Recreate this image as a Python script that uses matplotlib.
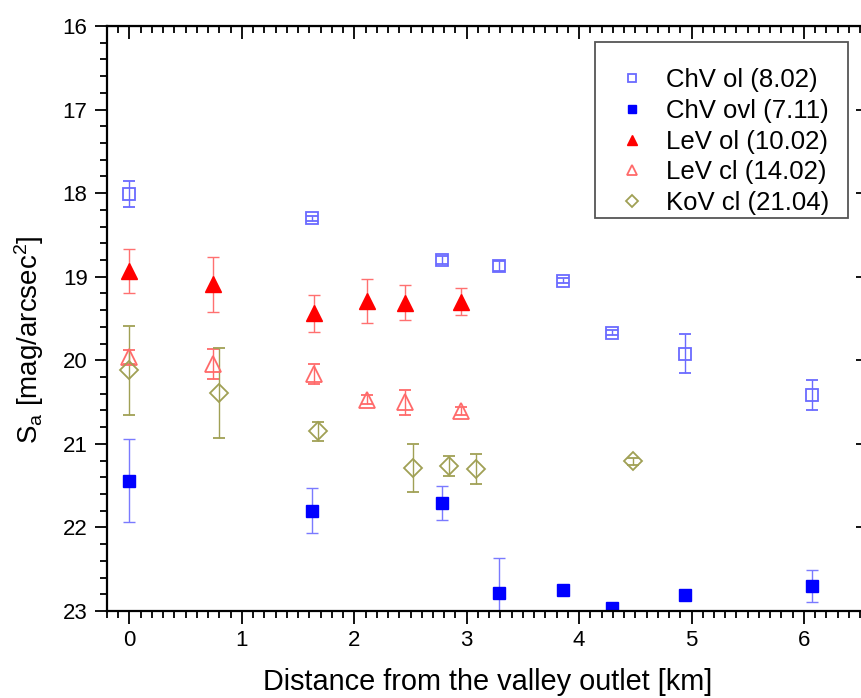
import matplotlib
matplotlib.use("Agg")
import matplotlib.pyplot as plt
from matplotlib.ticker import MultipleLocator
from matplotlib.patches import Rectangle

plt.rcParams['font.family'] = ['Liberation Sans', 'DejaVu Sans']
plt.rcParams['mathtext.default'] = 'regular'

# ---- data ----
chv_ol_x = [0.0, 1.62, 2.78, 3.29, 3.86, 4.29, 4.94, 6.07]
chv_ol_y = [18.01, 18.30, 18.80, 18.87, 19.05, 19.67, 19.92, 20.42]
chv_ol_e = [0.16, 0.03, 0.05, 0.06, 0.03, 0.03, 0.23, 0.18]

chv_ovl_x = [0.0, 1.62, 2.78, 3.29, 3.86, 4.29, 4.94, 6.07]
chv_ovl_y = [21.44, 21.80, 21.71, 22.79, 22.75, 22.96, 22.81, 22.70]
chv_ovl_e = [0.50, 0.27, 0.20, 0.42, 0.05, 0.03, 0.03, 0.19]

lev_ol_x = [0.0, 0.74, 1.64, 2.11, 2.45, 2.95]
lev_ol_y = [18.93, 19.09, 19.44, 19.29, 19.31, 19.30]
lev_ol_e = [0.26, 0.33, 0.22, 0.26, 0.21, 0.16]

lev_cl_x = [0.0, 0.74, 1.64, 2.11, 2.45, 2.95]
lev_cl_y = [19.96, 20.04, 20.16, 20.47, 20.50, 20.61]
lev_cl_e = [0.08, 0.18, 0.12, 0.05, 0.15, 0.05]

kov_cl_x = [0.0, 0.80, 1.68, 2.52, 2.84, 3.08, 4.48]
kov_cl_y = [20.12, 20.39, 20.85, 21.29, 21.27, 21.30, 21.21]
kov_cl_e = [0.53, 0.54, 0.11, 0.29, 0.12, 0.18, 0.04]

labels = ['ChV ol (8.02)', 'ChV ovl (7.11)', 'LeV ol (10.02)',
          'LeV cl (14.02)', 'KoV cl (21.04)']

W, H = 862, 698
fig = plt.figure(figsize=(W/100, H/100), dpi=100)
ax_l, ax_r, ax_t, ax_b = 107, 868, 26, 611
ax = fig.add_axes([ax_l/W, (H-ax_b)/H, (ax_r-ax_l)/W, (ax_b-ax_t)/H])
aw, ah = ax_r - ax_l, ax_b - ax_t

light_blue = '#6a6aff'
blue = '#0000ff'
red = '#ff0000'
light_red = '#ff6a6a'
olive = '#a0a055'

ekw = dict(linestyle='none', capsize=4, elinewidth=1.0, capthick=1.0)

ax.errorbar(chv_ol_x, chv_ol_y, yerr=chv_ol_e, marker='s', ms=8,
            mfc='none', mec=light_blue, mew=1.3, ecolor=light_blue,
            label=labels[0], **ekw)
ax.errorbar(chv_ovl_x, chv_ovl_y, yerr=chv_ovl_e, marker='s', ms=8.5,
            mfc=blue, mec=blue, ecolor='#7a7aff', label=labels[1], **ekw)
ax.errorbar(lev_ol_x, lev_ol_y, yerr=lev_ol_e, marker='^', ms=11,
            mfc=red, mec=red, ecolor='#ff7070', label=labels[2], **ekw)
ax.errorbar(lev_cl_x, lev_cl_y, yerr=lev_cl_e, marker='^', ms=11,
            mfc='none', mec=light_red, mew=1.3, ecolor=light_red,
            label=labels[3], **ekw)
ax.errorbar(kov_cl_x, kov_cl_y, yerr=kov_cl_e, marker='D', ms=9,
            mfc='none', mec=olive, mew=1.3, ecolor=olive,
            label=labels[4], **ekw)

ax.set_xlim(-0.2, 6.57)
ax.set_ylim(23, 16)

ax.xaxis.set_major_locator(MultipleLocator(1))
ax.xaxis.set_minor_locator(MultipleLocator(0.1))
ax.yaxis.set_major_locator(MultipleLocator(1))
ax.yaxis.set_minor_locator(MultipleLocator(0.2))

for s in ax.spines.values():
    s.set_linewidth(1.6)

ax.tick_params(which='both', direction='out', width=1.3, labelsize=16,
               pad=5, top=False, right=False)
ax.tick_params(which='major', length=9)
ax.tick_params(which='minor', length=5)

# mirrored inward ticks on top/right
axt = ax.secondary_xaxis('top')
axt.xaxis.set_major_locator(MultipleLocator(1))
axt.xaxis.set_minor_locator(MultipleLocator(0.1))
axt.tick_params(which='both', direction='in', width=1.3, labeltop=False)
axt.tick_params(which='major', length=9)
axt.tick_params(which='minor', length=5)
axr = ax.secondary_yaxis('right')
axr.yaxis.set_major_locator(MultipleLocator(1))
axr.yaxis.set_minor_locator(MultipleLocator(0.2))
axr.tick_params(which='both', direction='in', width=1.3, labelright=False)
axr.tick_params(which='major', length=9)
axr.tick_params(which='minor', length=3)

ax.set_xlabel('Distance from the valley outlet [km]', fontsize=20.8, labelpad=12)
ax.set_ylabel('S$_a$ [mag/arcsec$^2$]', fontsize=20)
ax.yaxis.set_label_coords((46 - ax_l)/aw, (ax_b - 340)/ah)

# legend (frame drawn separately to match the original's placement)
handles, labs = ax.get_legend_handles_labels()
handles = [h[0] for h in handles]
leg = ax.legend(handles, labs, loc='center left',
                bbox_to_anchor=((619 - ax_l)/aw, (ax_b - 141.5)/ah),
                fontsize=18.5, frameon=False,
                markerscale=0.7, handlelength=1.0, handletextpad=0.83,
                labelspacing=0.26, borderpad=0, borderaxespad=0)
ax.add_patch(Rectangle(((595 - ax_l)/aw, (ax_b - 218)/ah),
                       (848 - 595)/aw, (218 - 42)/ah,
                       transform=ax.transAxes, fill=False,
                       edgecolor='#555555', linewidth=1.3, zorder=5,
                       clip_on=False))

fig.savefig('out.png', dpi=100)
